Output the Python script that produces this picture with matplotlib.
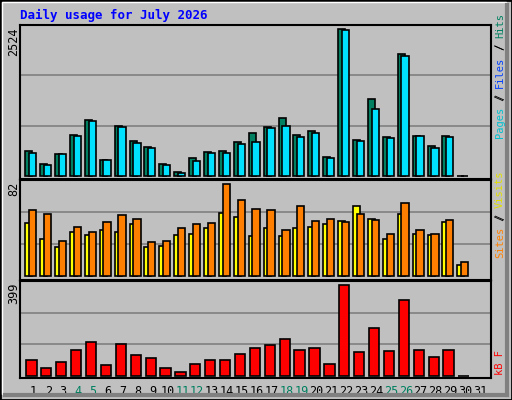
import matplotlib
matplotlib.use("Agg")
import matplotlib.pyplot as plt
from matplotlib.patches import Rectangle
import numpy as np

days = list(range(1, 32))
hits = [426,204,371,689,939,271,839,588,488,204,70,304,404,421,572,722,822,973,689,755,321,2460,605,1290,655,2043,672,505,672,0]
files = [388,187,371,672,922,271,822,555,471,187,53,254,388,388,538,572,805,839,655,722,304,2444,588,1123,638,2009,672,471,655,0]
visits = [45,32,25,38,35,39,38,44,25,26,35,36,41,54,50,34,41,34,41,42,44,47,60,49,32,53,36,35,46,9]
sites = [56,53,30,42,38,46,52,49,29,30,41,44,45,79,65,57,56,39,60,47,49,46,53,48,36,62,39,36,48,12]
kbytes = [65,31,56,107,144,44,132,86,73,31,14,48,65,65,90,115,128,153,107,115,48,384,98,199,102,317,107,77,107,0]
weekend = [4,5,11,12,18,19,25,26]
ymax = [2524, 82, 399]

BG = "#C0C0C0"
W, H = 512, 400
fig = plt.figure(figsize=(W/100, H/100), dpi=100, facecolor=BG)
mono = "DejaVu Sans Mono"

def ax_at(top, bottom, left=20, right=491):
    return fig.add_axes([left/W, 1-bottom/H, (right-left)/W, (bottom-top)/H])

fig.patches.append(Rectangle((0, 0), 1, 1, transform=fig.transFigure, fill=False, ec="black", lw=2))
fig.patches.append(Rectangle((2/W, 6/H), (W-8)/W, (H-8)/H, transform=fig.transFigure, fill=False, ec="white", lw=1))
fig.lines.append(plt.Line2D([(W-5)/W, (W-5)/W], [5/H, (H-5)/H], transform=fig.transFigure, color="#808080", lw=3))
fig.lines.append(plt.Line2D([5/W, (W-5)/W], [5/H, 5/H], transform=fig.transFigure, color="#808080", lw=3))

x = np.arange(1, len(hits)+1)
xl = (0.107, 31.72)

def style(ax, top, lo):
    ax.set_facecolor(BG)
    ax.set_xlim(*xl)
    ax.set_ylim(lo, top)
    for g in (top/3, 2*top/3):
        ax.axhline(g, color="#808080", lw=1.2, zorder=0)
    for s in ax.spines.values():
        s.set_color("black"); s.set_linewidth(1.5)
    ax.set_yticks([])

a1 = ax_at(25, 179)
style(a1, ymax[0], -42)
a1.bar(x-0.302, hits, width=0.47, color="#008060", ec="black", lw=1.2, zorder=2)
a1.bar(x-0.047, files, width=0.49, color="#00E0FF", ec="black", lw=1.2, zorder=3)
a1.set_xticks([])

a2 = ax_at(180, 280)
style(a2, ymax[1], -3.4)
a2.bar(x-0.302, visits, width=0.47, color="#FFFF00", ec="black", lw=1.2, zorder=2)
a2.bar(x-0.047, sites, width=0.49, color="#FF8000", ec="black", lw=1.2, zorder=3)
a2.set_xticks([])

a3 = ax_at(281, 378)
style(a3, ymax[2], -9.7)
a3.bar(x-0.124, kbytes, width=0.69, color="#FF0000", ec="black", lw=1.2, zorder=2)
a3.set_xticks(days)
a3.set_xticklabels([str(d) for d in days], fontfamily=mono, fontsize=8.5)
a3.tick_params(axis="x", length=0, pad=5)
for lab, d in zip(a3.get_xticklabels(), days):
    lab.set_color("#008060" if d in weekend else "black")

fig.text(20/W, 1-15/H, "Daily usage for July 2026", fontfamily=mono, fontweight="bold",
         fontsize=9, color="#0000FF", va="center", ha="left")

for yv, ytop in zip(ymax, (25, 180, 281)):
    fig.text(14/W, 1-(ytop+2)/H, str(yv), rotation=90, fontfamily=mono, fontsize=8.5,
             va="top", ha="center")

FS = 7.5
STEP = 0.602 * FS * 100 / 72

def vlabel(parts, ybot):
    ypos = ybot
    for txt, col in parts:
        if txt.strip():
            fig.text(500/W, 1-ypos/H, txt, rotation=90, fontfamily=mono, fontsize=FS,
                     color=col, va="bottom", ha="center")
        ypos -= len(txt)*STEP

vlabel([("Pages", "#00C0D0"), (" / ", "black"), ("Files", "#0040FF"), (" / ", "black"), ("Hits", "#008060")], 138)
vlabel([("Sites", "#FF8000"), (" / ", "black"), ("Visits", "#E0E000")], 258)
vlabel([("kB F", "#FF0000")], 375)
# slashes
for yb, n in ((138, 5), (138, 13), (258, 5)):
    fig.text(500/W, 1-(yb - (n+1)*STEP)/H, "/", rotation=90, fontfamily=mono, fontsize=FS,
             color="black", va="bottom", ha="center")

fig.savefig("out.png", dpi=100, facecolor=BG)
